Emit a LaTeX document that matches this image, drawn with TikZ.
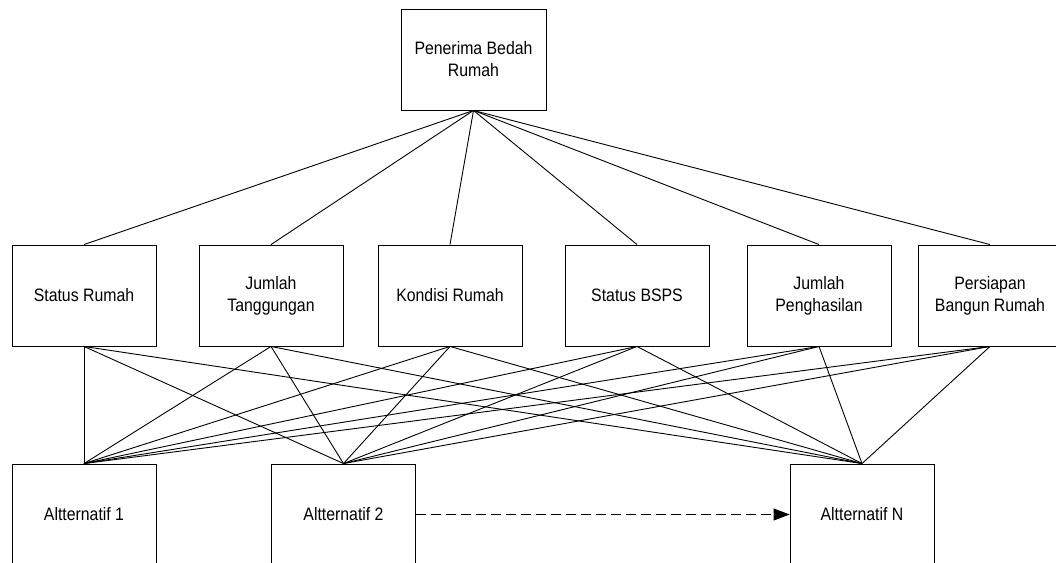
\documentclass[tikz,border=0pt]{standalone}
\usepackage{fontspec}
\setmainfont{Liberation Sans}
\newfontfamily\labelfont[FakeStretch=0.88]{Liberation Sans}
\usetikzlibrary{arrows.meta,positioning}

\begin{document}
\begin{tikzpicture}[x=1pt,y=-1pt]
\tikzset{kotak/.style={draw,line width=0.9pt,minimum width=144pt,minimum height=101pt,
  align=center,inner sep=2pt,font=\labelfont\fontsize{18}{22}\selectfont}}
\tikzset{garis/.style={line width=0.9pt}}
\clip (0,0) rectangle (1056,562);
\node[kotak,minimum width=145pt] (tujuan) at (473.5,59.5) {Penerima Bedah\\Rumah};
% kriteria
\node[kotak] (k1) at (84,295.5) {Status Rumah};
\node[kotak] (k2) at (271,295.5) {Jumlah\\Tanggungan};
\node[kotak] (k3) at (450,295.5) {Kondisi Rumah};
\node[kotak] (k4) at (637,295.5) {Status BSPS};
\node[kotak] (k5) at (819,295.5) {Jumlah\\Penghasilan};
\node[kotak] (k6) at (990,295.5) {Persiapan\\Bangun Rumah};
% alternatif
\node[kotak] (a1) at (84,514.5) {Altternatif 1};
\node[kotak] (a2) at (343.5,514.5) {Altternatif 2};
\node[kotak] (an) at (862,514.5) {Altternatif N};
\foreach \k in {k1,k2,k3,k4,k5,k6}{
  \draw[garis] (tujuan.south) -- (\k.north);
  \foreach \a in {a1,a2,an}
    \draw[garis] (\k.south) -- (\a.north);
}
\draw[garis,dash pattern=on 10pt off 5pt,-{Triangle[length=16pt,width=12pt]}] (a2.east) -- (an.west);
\end{tikzpicture}
\end{document}
